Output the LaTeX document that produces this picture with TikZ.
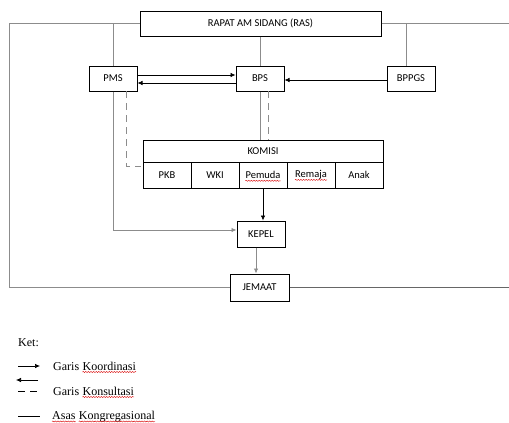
\documentclass[tikz,border=0pt]{standalone}
\usepackage{fontspec}
\setmainfont{Liberation Serif}
\newfontfamily\diag{Carlito}
\usetikzlibrary{arrows.meta,decorations.pathmorphing}
\tikzset{
  box/.style={draw, line width=1pt, minimum width=48pt, minimum height=25pt, inner sep=0pt,
              font=\diag\fontsize{10.5}{12}\selectfont},
  word/.style={inner sep=0pt, font=\diag\fontsize{10.5}{12}\selectfont},
  gline/.style={draw=black!45, line width=0.8pt},
  bline/.style={draw=black, line width=0.7pt},
  arr/.style={-{Latex[length=5pt,width=4.5pt]}},
  dashln/.style={dash pattern=on 7pt off 5pt},
  legtext/.style={anchor=base west, inner sep=0pt, font=\fontsize{12}{14}\selectfont},
  wave/.style={draw=red!85!black, line width=0.4pt, decorate,
               decoration={snake, amplitude=0.55pt, segment length=2.6pt}}
}
\begin{document}
\begin{tikzpicture}[x=1pt,y=-1pt]
\useasboundingbox (0,0) rectangle (509,423);
% boxes
\node[box, minimum width=241pt] (ras) at (260.5,23.5) {RAPAT AM SIDANG (RAS)};
\node[box] (pms) at (113,78.5) {PMS};
\node[box] (bps) at (260,78.5) {BPS};
\node[box] (bppgs) at (411,78.5) {BPPGS};
\node[box, minimum width=240pt, minimum height=22pt] (kom) at (263,151) {KOMISI};
\node[box, minimum height=26pt] (pkb) at (167,175) {PKB};
\node[box, minimum height=26pt] (wki) at (215,175) {WKI};
\node[box, minimum height=26pt] (pem) at (263,175) {};
\node[word] (pemt) at (pem.center) {Pemuda};
\node[box, minimum height=26pt] (rem) at (311,175) {};
\node[word] (remt) at (rem.center) {Remaja};
\node[box, minimum height=26pt] (anak) at (359,175) {Anak};
\node[box, minimum height=26pt] (kepel) at (261,234) {KEPEL};
\node[box, minimum width=59pt, minimum height=27pt] (jem) at (259.5,287.5) {JEMAAT};
\draw[wave] ([yshift=-2.2pt]pemt.base west) -- ([yshift=-2.2pt]pemt.base east);
\draw[wave] ([yshift=-2.2pt]remt.base west) -- ([yshift=-2.2pt]remt.base east);
% helper coordinates
\coordinate (lt) at (9,23);
\coordinate (lb) at (9,287);
\coordinate (rt) at (509,23);
\coordinate (rb) at (509,287);
\coordinate (pmsup) at (113,23);
\coordinate (bppup) at (406,23);
\coordinate (bppdn) at (406,66);
\coordinate (pmsdash) at (126,91);
\coordinate (pmsdashc) at (126,166);
\coordinate (pmsdashe) at (141,166);
\coordinate (pmsline) at (113,230);
\coordinate (bpsdash) at (268,91);
\coordinate (bpsdashe) at (268,140);
% asas kongregasional lines
\draw[gline] (ras.west |- lt) -- (lt) -- (lb) -- (jem.west |- lb);
\draw[gline] (ras.east |- rt) -- (rt);
\draw[gline, draw=black!60] (jem.east |- rb) -- (rb);
\draw[gline] (pmsup) -- (pms.north);
\draw[gline] (ras.south -| bps.north) -- (bps.north);
\draw[gline] (bppup) -- (bppdn);
\draw[gline] (pms.south) -- (pmsline);
\draw[gline] (bps.south) -- (bps.south |- kom.north);
% konsultasi
\draw[gline, dashln] (pmsdash) -- (pmsdashc) -- (pmsdashe);
\draw[gline, dashln] (bpsdash) -- (bpsdashe);
% koordinasi
\draw[bline, arr] ([yshift=3.5pt]pms.east) -- ([yshift=3.5pt]pms.east -| bps.west);
\draw[bline, arr] ([yshift=-4.5pt]bps.west) -- ([yshift=-4.5pt]bps.west -| pms.east);
\draw[bline, arr] ([yshift=-1.5pt]bppgs.west) -- ([yshift=-1.5pt]bppgs.west -| bps.east);
\draw[gline, arr] (pmsline) -- (pmsline -| kepel.west);
\draw[bline, arr] (pem.south) -- (pem.south |- kepel.north);
\draw[gline, arr] ([xshift=-5pt]kepel.south) -- ([xshift=-5pt]kepel.south |- jem.north);
% legend
\node[legtext] (ket) at (18,346) {Ket:};
\coordinate (l1a) at (18,366); \coordinate (l1b) at (40,366);
\coordinate (l2a) at (38,380); \coordinate (l2b) at (16,380);
\coordinate (l3a) at (18,391); \coordinate (l3b) at (40,391);
\coordinate (l4a) at (18,416); \coordinate (l4b) at (40,416);
\draw[bline, arr] (l1a) -- (l1b);
\draw[bline, arr] (l2a) -- (l2b);
\draw[bline, dashln] (l3a) -- (l3b);
\draw[bline, line width=0.5pt] (l4a) -- (l4b);
\node[legtext] (t1a) at (53,370) {Garis};
\node[legtext] (t1b) at ([xshift=3pt]t1a.base east) {Koordinasi};
\node[legtext] (t2a) at (53,395) {Garis};
\node[legtext] (t2b) at ([xshift=3pt]t2a.base east) {Konsultasi};
\node[legtext] (t3a) at (52,419.5) {Asas};
\node[legtext] (t3b) at ([xshift=3pt]t3a.base east) {Kongregasional};
\foreach \w in {t1b,t2b,t3a,t3b}
  \draw[wave] ([yshift=-2pt]\w.base west) -- ([yshift=-2pt]\w.base east);
\end{tikzpicture}
\end{document}
